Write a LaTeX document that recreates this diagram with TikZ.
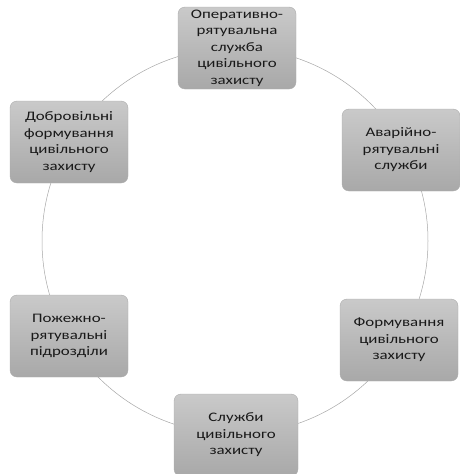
\documentclass[tikz,border=0pt]{standalone}
\usepackage{fontspec}
\setmainfont{Carlito}[FakeStretch=1.3]
\begin{document}
\begin{tikzpicture}[x=1pt,y=-1pt,
  box/.style={rounded corners=7pt, minimum width=118pt, minimum height=82pt,
    top color=gray!42, bottom color=gray!68, draw=gray!65, line width=0.4pt,
    align=center, font=\fontsize{13}{16.5}\selectfont, text=black!90, inner sep=2pt},
  ring/.style={draw=gray!70, line width=0.5pt}]
\useasboundingbox (0,0) rectangle (460,474);
\coordinate (c) at (235,241);
\draw[ring] (c) circle[radius=193];
\node[box] (n1) at (237,48) {Оперативно-\\рятувальна\\служба\\цивільного\\захисту};
\node[box] (n2) at (401,150) {Аварійно-\\рятувальні\\служби};
\node[box] (n3) at (399,340) {Формування\\цивільного\\захисту};
\node[box, minimum width=124pt] (n4) at (236,435) {Служби\\цивільного\\захисту};
\node[box] (n5) at (69,336) {Пожежно-\\рятувальні\\підрозділи};
\node[box] (n6) at (69,142) {Добровільні\\формування\\цивільного\\захисту};
\end{tikzpicture}
\end{document}
